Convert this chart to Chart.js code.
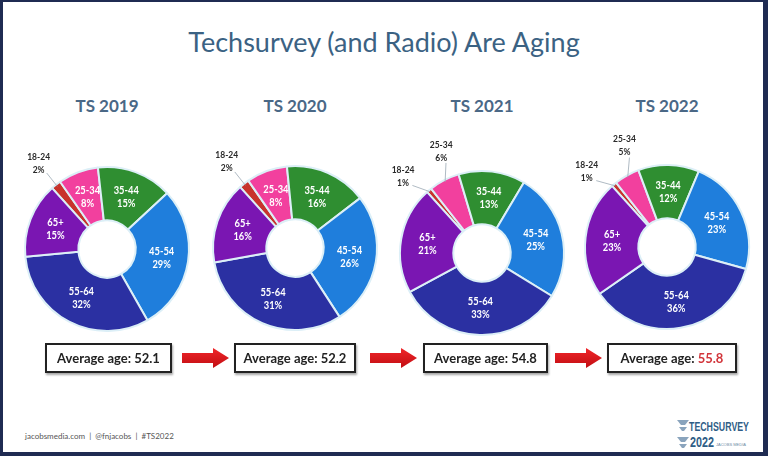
<!DOCTYPE html>
<html>
<head>
<meta charset="utf-8">
<script src="https://cdn.jsdelivr.net/npm/chart.js@4.4.1/dist/chart.umd.min.js"></script>
<style>
html, body { margin: 0; padding: 0; background: #fff; }
body { position: relative; width: 768px; height: 456px; overflow: hidden; font-family: Lato, "Open Sans", sans-serif; }
#frame { position: absolute; left: 0; top: 0; width: 768px; height: 456px; box-sizing: border-box;
  border-style: solid; border-color: #1f2b52; border-width: 2px 5px 4px 3px; pointer-events: none; }
#title { position: absolute; left: 0; width: 768px; top: 25px; text-align: center; font-size: 27px; color: #3b6283; }
.year { position: absolute; width: 120px; top: 95px; text-align: center; font-size: 17px; font-weight: bold; color: #4a6886; }
.pie { position: absolute; width: 240px; height: 250px; }
.avg { position: absolute; top: 343px; height: 30px; box-sizing: border-box; border: 2px solid #222;
  box-shadow: 1px 2px 2px rgba(0,0,0,0.35); text-align: center; line-height: 26px; font-size: 13px; font-weight: bold; color: #222; background: #fff; }
.avg .hi { color: #d2353b; }
#arrows { position: absolute; left: 0; top: 340px; }
#footer { position: absolute; left: 25px; top: 431px; font-size: 8px; color: #555; }
#logo { position: absolute; left: 676px; top: 417px; width: 76px; height: 34px; color: #2f5d86; }
</style>
</head>
<body>
<div id="title">Techsurvey (and Radio) Are Aging</div>
<div id="years"></div>
<div id="pies"></div>
<div id="boxes"></div>
<svg id="arrows" width="768" height="40"></svg>
<div id="footer">jacobsmedia.com &nbsp;| &nbsp;@fnjacobs &nbsp;| &nbsp;#TS2022</div>
<div id="logo">
  <svg width="76" height="34">
    <polygon points="1,3 13,3 9,8 5,8" fill="#8aa4bd"/>
    <polygon points="3,10 11,10 8,14 6,14" fill="#8aa4bd"/>
    <polygon points="1,20 13,20 9,25 5,25" fill="#8aa4bd"/>
    <polygon points="3,27 11,27 8,31 6,31" fill="#8aa4bd"/>
    <text x="13" y="14" font-family="Liberation Sans Narrow, Liberation Sans, sans-serif" font-weight="bold" font-size="13" fill="#2f5d86" textLength="60" lengthAdjust="spacingAndGlyphs">TECHSURVEY</text>
    <text x="14" y="30" font-family="Liberation Sans, sans-serif" font-weight="bold" font-size="14" fill="#2f5d86" textLength="24" lengthAdjust="spacingAndGlyphs">2022</text>
    <text x="40" y="29" font-family="Liberation Sans, sans-serif" font-size="4" fill="#6f8aa5" textLength="30" lengthAdjust="spacingAndGlyphs">JACOBS MEDIA</text>
  </svg>
</div>
<div id="frame"></div>

<script>
const ageGroups = ['18-24', '25-34', '35-44', '45-54', '55-64', '65+'];
const years = ['TS 2019', 'TS 2020', 'TS 2021', 'TS 2022'];
const share2019 = [2, 8, 15, 29, 32, 15];
const share2020 = [2, 8, 16, 26, 31, 16];
const share2021 = [1, 6, 13, 25, 33, 21];
const share2022 = [1, 5, 12, 23, 36, 23];
const averageAges = ['52.1', '52.2', '54.8', '55.8'];

const allShares = [share2019, share2020, share2021, share2022];
const sliceColors = ['#c8332c', '#f2409e', '#2f8e31', '#1f7edc', '#2b30a2', '#7a16b2'];

// layout of the four rings (page px)
const centers = [[107, 249], [295, 248], [482, 253], [667, 247]];
const boxes = [[45, 127], [234, 122], [423, 125], [607, 130]];
const arrowsX = [182, 370, 555];

// small slices get their label outside the ring
const sliceLabels = {
    id: 'sliceLabels',
    afterDatasetsDraw(chart) {
        const ctx = chart.ctx;
        const meta = chart.getDatasetMeta(0);
        const values = chart.data.datasets[0].data;
        const outside = [];

        ctx.save();
        ctx.textAlign = 'center';
        ctx.textBaseline = 'middle';

        meta.data.forEach((arc, i) => {
            const p = arc.getProps(['x', 'y', 'startAngle', 'endAngle', 'innerRadius', 'outerRadius'], true);
            const mid = (p.startAngle + p.endAngle) / 2;
            const lines = [chart.data.labels[i], values[i] + '%'];
            if (values[i] < 7) {
                outside.push({ p: p, mid: mid, la: mid, lines: lines });
                return;
            }
            const r = (p.innerRadius + p.outerRadius) / 2;
            ctx.fillStyle = '#ffffff';
            ctx.font = 'bold 11px Lato, sans-serif';
            drawLines(ctx, lines, p.x + Math.cos(mid) * r, p.y + Math.sin(mid) * r);
        });

        // push neighbouring outside labels apart
        const gap = 0.42;
        for (let k = 1; k < outside.length; k++) {
            const a = outside[k - 1], b = outside[k];
            if (b.la - a.la < gap) {
                const c = (a.la + b.la) / 2;
                a.la = c - gap / 2;
                b.la = c + gap / 2;
            }
        }

        outside.forEach(o => {
            const p = o.p;
            const r = p.outerRadius + 28;
            const tx = p.x + Math.cos(o.la) * r;
            const ty = p.y + Math.sin(o.la) * r;
            ctx.strokeStyle = '#9aa8b4';
            ctx.lineWidth = 0.8;
            ctx.beginPath();
            ctx.moveTo(p.x + Math.cos(o.mid) * (p.outerRadius - 2), p.y + Math.sin(o.mid) * (p.outerRadius - 2));
            ctx.lineTo(p.x + Math.cos(o.la) * (r - 13), p.y + Math.sin(o.la) * (r - 13));
            ctx.stroke();
            ctx.fillStyle = '#2a2a2a';
            ctx.font = 'bold 10px Lato, sans-serif';
            drawLines(ctx, o.lines, tx, ty);
        });
        ctx.restore();
    }
};

function drawLines(ctx, lines, x, y) {
    ctx.save();
    ctx.translate(x, y);
    ctx.scale(0.85, 1);
    ctx.fillText(lines[0], 0, -6.5);
    ctx.fillText(lines[1], 0, 6.5);
    ctx.restore();
}

years.forEach((year, i) => {
    const cx = centers[i][0], cy = centers[i][1];

    let t = document.createElement('div');
    t.className = 'year';
    t.style.left = (cx - 60) + 'px';
    t.textContent = year;
    document.getElementById('years').appendChild(t);

    let wrap = document.createElement('div');
    wrap.className = 'pie';
    wrap.style.left = (cx - 120) + 'px';
    wrap.style.top = (cy - 125) + 'px';
    let canvas = document.createElement('canvas');
    wrap.appendChild(canvas);
    document.getElementById('pies').appendChild(wrap);

    new Chart(canvas, {
        type: 'doughnut',
        data: {
            labels: ageGroups,
            datasets: [{
                data: allShares[i],
                backgroundColor: sliceColors,
                borderColor: '#dcefF7',
                borderWidth: 2
            }]
        },
        options: {
            responsive: true,
            maintainAspectRatio: false,
            animation: false,
            rotation: -42,
            cutout: '35%',
            layout: { padding: { left: 37, right: 37, top: 42, bottom: 42 } },
            plugins: { legend: { display: false }, tooltip: { enabled: false } }
        },
        plugins: [sliceLabels]
    });

    let b = document.createElement('div');
    b.className = 'avg';
    b.style.left = boxes[i][0] + 'px';
    b.style.width = boxes[i][1] + 'px';
    if (i === years.length - 1) {
        b.innerHTML = 'Average age: <span class="hi">' + averageAges[i] + '</span>';
    } else {
        b.textContent = 'Average age: ' + averageAges[i];
    }
    document.getElementById('boxes').appendChild(b);
});

// red arrows between the boxes
const svg = document.getElementById('arrows');
let defs = '<defs><linearGradient id="rg" x1="0" y1="0" x2="0" y2="1">' +
    '<stop offset="0" stop-color="#f0262a"/><stop offset="1" stop-color="#c10d12"/></linearGradient></defs>';
let shapes = '';
arrowsX.forEach(x => {
    shapes += '<polygon fill="url(#rg)" points="' +
        [[x, 13], [x + 31, 13], [x + 31, 8], [x + 47, 18], [x + 31, 28], [x + 31, 23], [x, 23]]
            .map(q => q.join(',')).join(' ') + '"/>';
});
svg.innerHTML = defs + shapes;
</script>
</body>
</html>
